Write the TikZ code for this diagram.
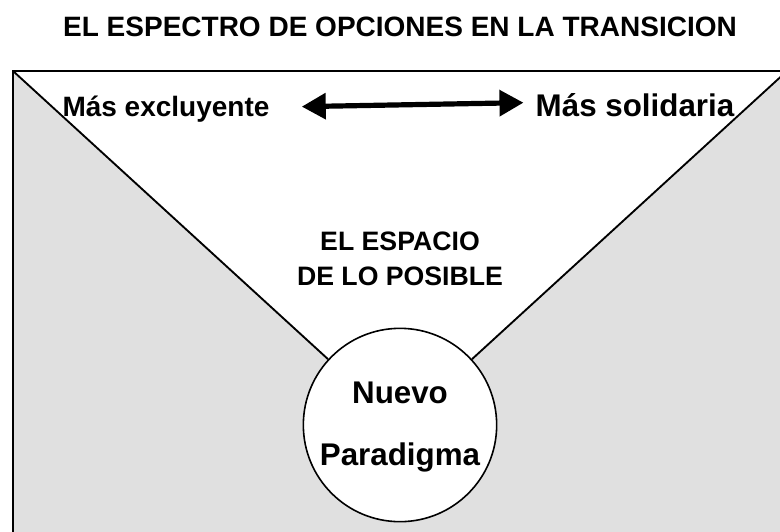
\documentclass[tikz,border=0pt]{standalone}
\usepackage{fontspec}
\setmainfont{Liberation Sans}
\usetikzlibrary{arrows.meta}
\definecolor{sidegray}{RGB}{224,224,224}

\begin{document}
\begin{tikzpicture}[x=0.75pt, y=-0.75pt,
  label/.style={font=\bfseries\fontsize{21}{25}\selectfont, inner sep=0pt, anchor=base},
  midlabel/.style={label, font=\bfseries\fontsize{20}{24}\selectfont},
  biglabel/.style={label, font=\bfseries\fontsize{23.5}{28}\selectfont},
  edge/.style={line width=1.4pt},
  spectrum/.style={line width=3.9pt, {Triangle[length=18pt,width=19pt]}-{Triangle[length=18pt,width=19pt]}}]
  \useasboundingbox (0,0) rectangle (780,531);
  \clip (0,0) rectangle (780,531);
  \coordinate (tl) at (13,71);
  \coordinate (tr) at (787,71);
  \coordinate (apex) at (400,425);

  % grey sides and the open V
  \fill[sidegray] (tl) rectangle (787,560);
  \fill[white] (tl) -- (tr) -- (apex) -- cycle;
  \draw[edge] (tr) -- (tl) -- (13,560);

  \node[circle, draw, line width=1.2pt, fill=white, inner sep=0pt, minimum size=145pt] (np) at (apex) {};
  \draw[edge] (tl) -- (np);
  \draw[edge] (tr) -- (np);

  \node[label] (title) at (400,37) {EL ESPECTRO DE OPCIONES EN LA TRANSICION};
  \node[label] (excl) at (166,117) {Más excluyente};
  \node[biglabel] (solid) at (635,117) {Más solidaria};
  \draw[spectrum] ([shift={(32,-3)}]excl.east) -- ([shift={(-12,-3)}]solid.west);

  \node[midlabel] (espacio) at (400,250) {EL ESPACIO};
  \node[midlabel] (posible) at (400,285) {DE LO POSIBLE};
  \node[biglabel] (nuevo) at (400,403) {Nuevo};
  \node[biglabel] (paradigma) at (400,465) {Paradigma};
\end{tikzpicture}
\end{document}
